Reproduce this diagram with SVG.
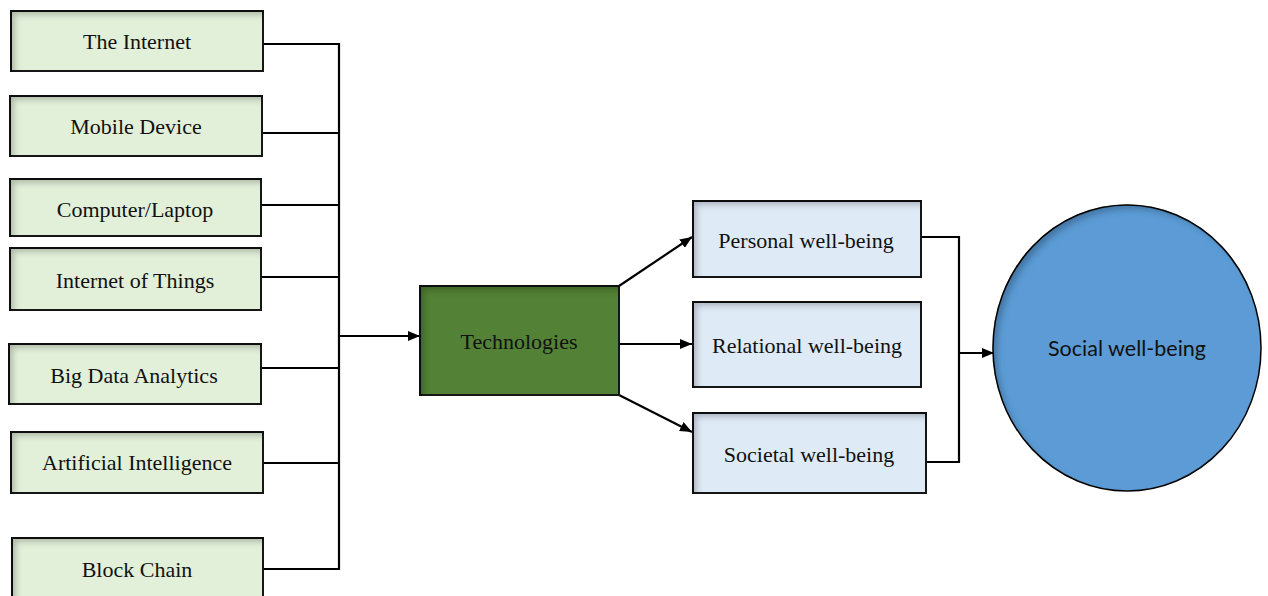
<svg xmlns="http://www.w3.org/2000/svg" width="1268" height="596" viewBox="0 0 1268 596">
<style>
.g{fill:#e2efd9;stroke:#1a1a1a;stroke-width:2;filter:url(#inset)}
.b{fill:#deeaf6;stroke:#1a1a1a;stroke-width:2;filter:url(#inset)}
.t{fill:#538135;stroke:#1a1a1a;stroke-width:2;filter:url(#inset)}
.c{fill:#5b9bd5;stroke:#111;stroke-width:1.5;filter:url(#inset)}
.lbl{font-family:"Liberation Serif","Times New Roman",serif;font-size:22px;fill:#111;text-anchor:middle}
.sl{font-family:Lato,"Open Sans",sans-serif;font-size:21.5px;fill:#111;text-anchor:middle}
.ln{fill:none;stroke:#000;stroke-width:2.2}
</style>
<defs>
<filter id="inset" x="-20%" y="-20%" width="140%" height="140%">
<feComponentTransfer in="SourceAlpha" result="inv"><feFuncA type="table" tableValues="1 0"/></feComponentTransfer>
<feOffset dx="5" dy="5" result="off"/>
<feGaussianBlur stdDeviation="3" result="blur"/>
<feFlood flood-color="#000" flood-opacity="0.45"/>
<feComposite in2="blur" operator="in" result="shadow"/>
<feComposite in="shadow" in2="SourceAlpha" operator="in" result="inner"/>
<feMerge><feMergeNode in="SourceGraphic"/><feMergeNode in="inner"/></feMerge>
</filter>
<marker id="arr" markerWidth="12" markerHeight="10" refX="12" refY="5" orient="auto" markerUnits="userSpaceOnUse">
<path d="M0,0 L12,5 L0,10 Z" fill="#000"/>
</marker>
</defs>
<g id="connectors">
<path class="ln" d="M263,44 H339 M262,133 H339 M261,205 H339 M261,277 H339 M261,368 H339 M263,463 H339 M263,569 H339 M339,43 V570"/>
<path class="ln" d="M339,336 H420" marker-end="url(#arr)"/>
<path class="ln" d="M619,286 L692,237" marker-end="url(#arr)"/>
<path class="ln" d="M619,344 H692" marker-end="url(#arr)"/>
<path class="ln" d="M619,395 L692,432" marker-end="url(#arr)"/>
<path class="ln" d="M921,237 H959 V462 H926"/>
<path class="ln" d="M959,353 H994" marker-end="url(#arr)"/>
</g>
<g id="internet"><rect class="g" x="11" y="11" width="252" height="60"/><text class="lbl" x="137" y="49">The Internet</text></g>
<g id="mobile"><rect class="g" x="10" y="96" width="252" height="60"/><text class="lbl" x="136" y="134">Mobile Device</text></g>
<g id="computer"><rect class="g" x="10" y="179" width="251" height="57"/><text class="lbl" x="135" y="217">Computer/Laptop</text></g>
<g id="iot"><rect class="g" x="10" y="248" width="251" height="62"/><text class="lbl" x="135" y="288">Internet of Things</text></g>
<g id="bigdata"><rect class="g" x="9" y="344" width="252" height="60"/><text class="lbl" x="134" y="383">Big Data Analytics</text></g>
<g id="ai"><rect class="g" x="11" y="432" width="252" height="61"/><text class="lbl" x="137" y="470">Artificial Intelligence</text></g>
<g id="blockchain"><rect class="g" x="12" y="538" width="251" height="70"/><text class="lbl" x="137" y="577">Block Chain</text></g>
<g id="technologies"><rect class="t" x="420" y="286" width="199" height="109"/><text class="lbl" x="519" y="349">Technologies</text></g>
<g id="personal"><rect class="b" x="693" y="201" width="228" height="76"/><text class="lbl" x="806" y="248">Personal well-being</text></g>
<g id="relational"><rect class="b" x="693" y="302" width="228" height="85"/><text class="lbl" x="807" y="353">Relational well-being</text></g>
<g id="societal"><rect class="b" x="693" y="413" width="233" height="80"/><text class="lbl" x="809" y="462">Societal well-being</text></g>
<g id="social"><ellipse class="c" cx="1127" cy="348" rx="134" ry="143"/><text class="sl" x="1127" y="356">Social well-being</text></g>
</svg>
